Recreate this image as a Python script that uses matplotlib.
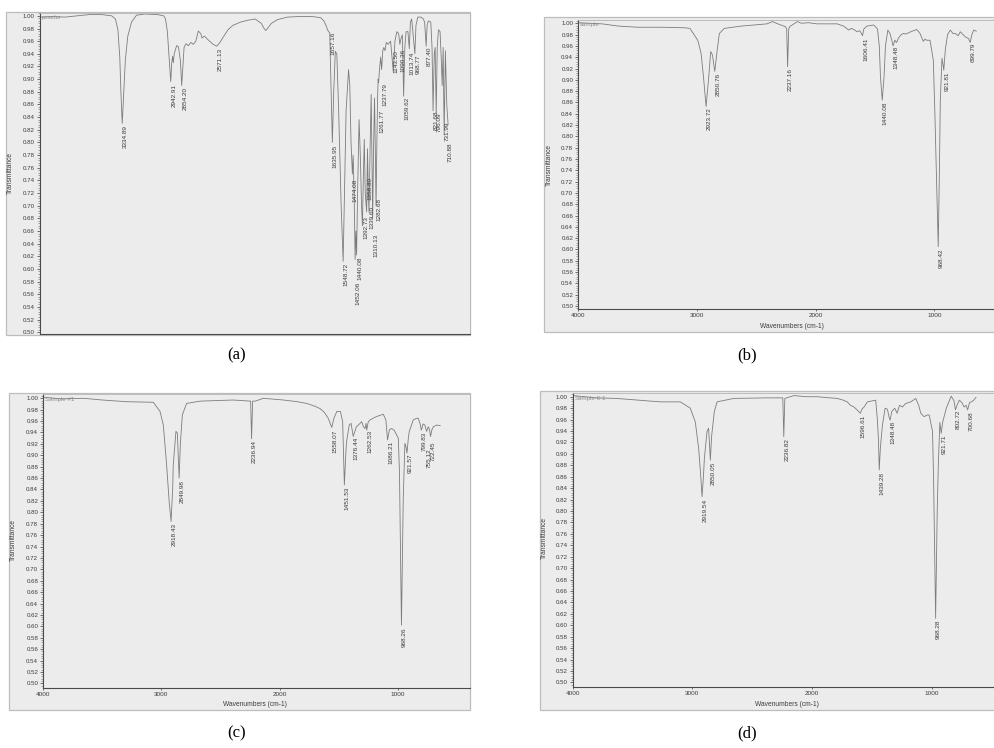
import matplotlib
matplotlib.use("Agg")
from matplotlib import pyplot as plt
from matplotlib.patches import Rectangle
from matplotlib.ticker import MultipleLocator, FormatStrFormatter

plt.rcParams['font.family'] = ['Liberation Sans', 'DejaVu Sans']

W, H = 995, 748

# spectra: (wavenumber cm-1, transmittance)
spec_a = [
    (3990, 0.998), (3900, 0.999), (3800, 0.998), (3700, 1.000), (3600, 1.002),
    (3500, 1.002), (3420, 1.000), (3390, 0.995), (3370, 0.978), (3355, 0.935),
    (3345, 0.875), (3334.89, 0.830), (3325, 0.870), (3310, 0.930), (3290, 0.968),
    (3260, 0.990), (3220, 1.001), (3150, 1.003), (3050, 1.002), (3000, 1.000),
    (2985, 0.995), (2970, 0.975), (2955, 0.930), (2942.91, 0.896), (2935, 0.925),
    (2928, 0.936), (2922, 0.926), (2915, 0.940), (2895, 0.953), (2880, 0.951),
    (2865, 0.930), (2854.20, 0.890), (2845, 0.920), (2835, 0.950), (2820, 0.956),
    (2800, 0.953), (2780, 0.958), (2760, 0.955), (2740, 0.960), (2720, 0.976),
    (2700, 0.972), (2690, 0.965), (2670, 0.968), (2640, 0.962), (2600, 0.955),
    (2571.13, 0.952), (2545, 0.958), (2520, 0.966), (2480, 0.978), (2440, 0.985),
    (2380, 0.990), (2320, 0.993), (2260, 0.995), (2210, 0.988), (2185, 0.979),
    (2173, 0.977), (2160, 0.980), (2130, 0.988), (2080, 0.994), (2000, 0.998),
    (1900, 0.999), (1800, 0.999), (1730, 0.997), (1705, 0.992), (1690, 0.986),
    (1670, 0.976), (1657.16, 0.973), (1648, 0.900), (1635.95, 0.800), (1625, 0.880),
    (1612, 0.944), (1600, 0.940), (1585, 0.850), (1565, 0.700), (1548.72, 0.612),
    (1540, 0.700), (1525, 0.850), (1505, 0.915), (1495, 0.890), (1485, 0.800),
    (1474.08, 0.750), (1468, 0.780), (1460, 0.720), (1452.06, 0.615), (1446, 0.660),
    (1440.08, 0.622), (1432, 0.720), (1420, 0.836), (1410, 0.780), (1400, 0.700),
    (1392.73, 0.668), (1385, 0.750), (1378, 0.805), (1370, 0.720), (1358.80, 0.690),
    (1352, 0.790), (1345, 0.720), (1339.60, 0.690), (1330, 0.800), (1322, 0.876),
    (1316, 0.780), (1310.13, 0.680), (1302, 0.800), (1295, 0.870), (1288, 0.780),
    (1282.68, 0.700), (1276, 0.800), (1270, 0.872), (1266, 0.900), (1261.77, 0.895),
    (1255, 0.915), (1245, 0.935), (1237.79, 0.915), (1228, 0.945), (1220, 0.950),
    (1210, 0.945), (1200, 0.958), (1185, 0.955), (1165, 0.960), (1143.50, 0.912),
    (1130, 0.960), (1115, 0.975), (1100, 0.972), (1090.36, 0.955), (1080, 0.965),
    (1070, 0.970), (1059.62, 0.873), (1050, 0.950), (1040, 0.975), (1025, 0.975),
    (1013.74, 0.948), (1005, 0.990), (995, 0.995), (985, 0.975), (968.77, 0.940),
    (960, 0.985), (945, 0.998), (920, 0.998), (900, 0.995), (890, 0.990),
    (877.40, 0.952), (870, 0.985), (860, 0.992), (840, 0.990), (830, 0.950),
    (821.68, 0.850), (812, 0.940), (805, 0.950), (796.09, 0.845), (788, 0.950),
    (778, 0.978), (765, 0.975), (755, 0.930), (748, 0.890), (740, 0.950),
    (731.99, 0.812), (722, 0.945), (710.88, 0.860), (700, 0.828),
]
peaks_a = [
    ("3334.89", 0.827), ("2942.91", 0.893), ("2854.20", 0.888), ("2571.13", 0.949),
    ("1657.16", 0.975), ("1635.95", 0.796), ("1548.72", 0.609), ("1474.08", 0.743),
    ("1452.06", 0.580), ("1440.08", 0.620), ("1392.73", 0.683), ("1358.80", 0.745),
    ("1339.60", 0.700), ("1310.13", 0.655), ("1282.68", 0.712), ("1261.77", 0.851),
    ("1237.79", 0.893), ("1143.50", 0.946), ("1090.36", 0.948), ("1059.62", 0.872),
    ("1013.74", 0.943), ("968.77", 0.938), ("877.40", 0.951), ("821.68", 0.851),
    ("796.09", 0.847), ("731.99", 0.833), ("710.88", 0.800),
]

spec_b = [
    (4000, 1.001), (3800, 0.999), (3660, 0.995), (3500, 0.993), (3300, 0.993),
    (3100, 0.992), (3060, 0.991), (2994, 0.970), (2966, 0.947), (2946, 0.906),
    (2923.72, 0.853), (2901, 0.906), (2885, 0.950), (2870, 0.944), (2850.76, 0.915),
    (2830, 0.953), (2812, 0.982), (2770, 0.991), (2630, 0.995), (2410, 0.999),
    (2365, 1.003), (2320, 0.999), (2255, 0.994), (2245, 0.990), (2237.16, 0.923),
    (2228, 0.990), (2220, 0.994), (2155, 1.003), (2120, 1.000), (2060, 1.001),
    (1990, 0.999), (1820, 0.999), (1765, 0.995), (1722, 0.988), (1700, 0.991),
    (1680, 0.989), (1650, 0.985), (1630, 0.987), (1615, 0.982), (1606.41, 0.978),
    (1595, 0.990), (1570, 0.995), (1512, 0.997), (1480, 0.990), (1465, 0.960),
    (1455, 0.905), (1440.08, 0.864), (1425, 0.905), (1413, 0.960), (1393, 0.988),
    (1375, 0.982), (1360, 0.970), (1348.48, 0.960), (1335, 0.970), (1320, 0.966),
    (1300, 0.975), (1280, 0.980), (1262, 0.982), (1240, 0.981), (1200, 0.985),
    (1150, 0.989), (1122, 0.982), (1094, 0.968), (1080, 0.972), (1066, 0.970),
    (1038, 0.970), (1010, 0.935), (996, 0.835), (980, 0.700), (968.42, 0.605),
    (958, 0.750), (951, 0.864), (937, 0.938), (930, 0.930), (921.81, 0.917),
    (909, 0.953), (890, 0.980), (867, 0.988), (845, 0.982), (825, 0.982),
    (800, 0.978), (783, 0.985), (760, 0.980), (741, 0.976), (713, 0.973),
    (699.79, 0.966), (685, 0.980), (670, 0.988), (648, 0.986),
]
peaks_b = [
    ("2923.72", 0.851), ("2850.76", 0.913), ("2237.16", 0.921), ("1606.41", 0.975),
    ("1440.08", 0.861), ("1348.48", 0.960), ("968.42", 0.602), ("921.81", 0.915),
    ("699.79", 0.966),
]

spec_c = [
    (4000, 1.002), (3850, 0.999), (3660, 1.000), (3500, 0.997), (3295, 0.994),
    (3069, 0.993), (3012, 0.977), (2984, 0.953), (2956, 0.883), (2935, 0.820),
    (2918.43, 0.784), (2905, 0.840), (2900, 0.883), (2877, 0.942), (2865, 0.939),
    (2858, 0.900), (2849.98, 0.860), (2840, 0.920), (2823, 0.971), (2787, 0.991),
    (2674, 0.995), (2392, 0.997), (2245, 0.995), (2236.94, 0.929), (2228, 0.995),
    (2205, 0.995), (2138, 1.000), (1968, 0.997), (1850, 0.994), (1771, 0.991),
    (1700, 0.986), (1658, 0.982), (1620, 0.975), (1588, 0.965), (1570, 0.955),
    (1558.07, 0.949), (1540, 0.965), (1515, 0.977), (1485, 0.977), (1466, 0.959),
    (1451.53, 0.848), (1440, 0.900), (1433, 0.924), (1410, 0.953), (1395, 0.956),
    (1376.44, 0.933), (1350, 0.950), (1333, 0.953), (1305, 0.959), (1290, 0.950),
    (1277, 0.947), (1268, 0.956), (1262.53, 0.944), (1250, 0.958), (1235, 0.962),
    (1180, 0.968), (1122, 0.972), (1100, 0.962), (1086.21, 0.927), (1070, 0.945),
    (1051, 0.947), (1030, 0.944), (995, 0.930), (985, 0.870), (968.26, 0.602),
    (953, 0.825), (939, 0.921), (930, 0.915), (921.57, 0.904), (910, 0.930),
    (902, 0.942), (868, 0.962), (840, 0.965), (826, 0.965), (810, 0.955),
    (799.83, 0.944), (785, 0.955), (770, 0.953), (755.12, 0.942), (741, 0.950),
    (730, 0.945), (722.45, 0.933), (710, 0.945), (699, 0.950), (670, 0.953),
    (640, 0.952),
]
peaks_c = [
    ("2918.43", 0.781), ("2849.98", 0.857), ("2236.94", 0.927), ("1558.07", 0.944),
    ("1451.53", 0.845), ("1376.44", 0.933), ("1262.53", 0.944), ("1086.21", 0.926),
    ("968.26", 0.598), ("921.57", 0.903), ("799.83", 0.942), ("755.12", 0.912),
    ("722.45", 0.924),
]

spec_d = [
    (4000, 1.002), (3800, 0.998), (3632, 0.997), (3450, 0.994), (3269, 0.991),
    (3101, 0.991), (3018, 0.980), (2976, 0.956), (2948, 0.910), (2930, 0.860),
    (2919.54, 0.825), (2908, 0.860), (2900, 0.892), (2878, 0.939), (2865, 0.945),
    (2858, 0.920), (2850.05, 0.889), (2840, 0.930), (2817, 0.974), (2794, 0.991),
    (2655, 0.997), (2376, 0.998), (2245, 0.998), (2236.82, 0.930), (2228, 0.997),
    (2152, 1.002), (2050, 1.000), (1957, 1.000), (1850, 0.998), (1790, 0.997),
    (1740, 0.994), (1706, 0.991), (1680, 0.985), (1650, 0.982), (1620, 0.976),
    (1596.61, 0.971), (1585, 0.978), (1566, 0.982), (1538, 0.991), (1469, 0.994),
    (1455, 0.960), (1446, 0.925), (1439.28, 0.872), (1430, 0.910), (1413, 0.950),
    (1390, 0.980), (1371, 0.978), (1358, 0.965), (1348.48, 0.959), (1335, 0.974),
    (1310, 0.980), (1290, 0.971), (1270, 0.985), (1245, 0.982), (1220, 0.988),
    (1176, 0.991), (1134, 0.997), (1110, 0.985), (1092, 0.971), (1064, 0.965),
    (1040, 0.968), (1022, 0.968), (994, 0.939), (985, 0.850), (968.28, 0.612),
    (955, 0.800), (946, 0.880), (933, 0.955), (921.71, 0.936), (910, 0.955),
    (879, 0.980), (850, 0.995), (838, 1.001), (815, 0.993), (802.72, 0.977),
    (790, 0.985), (770, 0.994), (750, 0.990), (730, 0.982), (714, 0.985),
    (700.68, 0.977), (685, 0.990), (668, 0.991), (650, 0.994), (631, 0.999),
]
peaks_d = [
    ("2919.54", 0.822), ("2850.05", 0.886), ("2236.82", 0.928), ("1596.61", 0.969),
    ("1439.28", 0.869), ("1348.48", 0.957), ("968.28", 0.609), ("921.71", 0.934),
    ("802.72", 0.978), ("700.68", 0.975),
]

names = ["powder", "sample", "Sample #1", "Sample-6-1"]
captions = ["(a)", "(b)", "(c)", "(d)"]
y_ticks = [0.50 + 0.02 * i for i in range(26)]
x_ticks = [4000, 3000, 2000, 1000]

BG = "#ececec"
LINE = "#7c7c7c"
TXT = "#3c3c3c"

fig = plt.figure(figsize=(W / 100, H / 100), dpi=100)

# layout in pixels: frame (x0, y0, x1, y1), axes box (l, t, r, b)
layout = [
    dict(frame=(6, 12, 470, 335), box=(40, 12.5, 470, 334.3), xlim=(3990, 523),
         ylim=(0.4967, 1.0053), cap=(237, 355), ylab=(10, 173), xlab=None),
    dict(frame=(544, 17, 996, 332), box=(578.3, 20, 996, 309), xlim=(4000, 482),
         ylim=(0.4947, 1.0058), cap=(747, 355), ylab=(549, 165), xlab=(792, 326)),
    dict(frame=(9, 393, 470, 710), box=(43.3, 394.3, 470, 687.7), xlim=(4000, 388),
         ylim=(0.4923, 1.007), cap=(237, 733), ylab=(13, 540), xlab=(255, 705)),
    dict(frame=(540, 391, 996, 710), box=(572.7, 393.3, 996, 686.7), xlim=(4000, 464),
         ylim=(0.4924, 1.006), cap=(747, 733), ylab=(544, 538), xlab=(787, 704)),
]

specs = [spec_a, spec_b, spec_c, spec_d]
peaks = [peaks_a, peaks_b, peaks_c, peaks_d]

for i, lay in enumerate(layout):
    x0, y0, x1, y1 = lay["frame"]
    fig.add_artist(Rectangle((x0 / W, 1 - y1 / H), (x1 - x0) / W, (y1 - y0) / H,
                             transform=fig.transFigure, fc=BG, ec="#bdbdbd",
                             lw=0.9, zorder=0))
    l, t, r, b = lay["box"]
    ax = fig.add_axes([l / W, 1 - b / H, (r - l) / W, (b - t) / H])
    ax.set_facecolor(BG)
    ax.plot([p[0] for p in specs[i]], [p[1] for p in specs[i]], color=LINE, lw=0.6)
    ax.set_xlim(*lay["xlim"])
    ax.set_ylim(*lay["ylim"])

    ax.set_yticks(y_ticks)
    ax.yaxis.set_major_formatter(FormatStrFormatter("%.2f"))
    ax.yaxis.set_minor_locator(MultipleLocator(0.004))
    ax.tick_params(axis="y", which="major", direction="out", length=2.2, width=0.5,
                   pad=1.5, labelsize=4.4, colors=TXT)
    ax.tick_params(axis="y", which="minor", direction="out", length=1.2, width=0.4,
                   colors="#666666")
    ax.set_xticks(x_ticks)
    ax.xaxis.set_minor_locator(MultipleLocator(100))
    if lay["xlab"] is None:
        ax.tick_params(axis="x", which="both", bottom=False, labelbottom=False)
    else:
        ax.tick_params(axis="x", which="major", direction="out", length=1.5,
                       width=0.5, pad=1.5, labelsize=4.6, colors=TXT)
        ax.tick_params(axis="x", which="minor", length=0)
        fig.text(lay["xlab"][0] / W, 1 - lay["xlab"][1] / H, "Wavenumbers (cm-1)",
                 fontsize=4.8, color=TXT, ha="center", va="center")

    for side in ["left", "bottom"]:
        ax.spines[side].set_color("#4a4a4a")
        ax.spines[side].set_linewidth(0.8)
    for side in ["top", "right"]:
        ax.spines[side].set_color("#b5b5b5")
        ax.spines[side].set_linewidth(0.6)

    for lab, top in peaks[i]:
        ax.annotate(lab, (float(lab), top), xytext=(2.2, 0), textcoords="offset points",
                    rotation=90, ha="center", va="top", fontsize=4.6, color=TXT)

    ax.text(0.004, 0.992, names[i], transform=ax.transAxes, fontsize=4.4,
            color="#8a8a8a", ha="left", va="top")

    fig.text(lay["ylab"][0] / W, 1 - lay["ylab"][1] / H, "Transmittance",
             rotation=90, fontsize=4.8, color=TXT, ha="center", va="center")
    fig.text(lay["cap"][0] / W, 1 - lay["cap"][1] / H, captions[i],
             family="Liberation Serif", fontsize=12, ha="center", va="center")

fig.savefig("out.png", dpi=100)
